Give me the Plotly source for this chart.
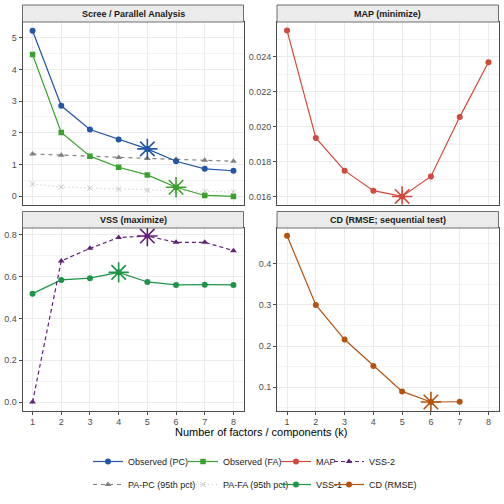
import plotly.graph_objects as go

k = [1, 2, 3, 4, 5, 6, 7, 8]

obs_pc = [5.22, 2.85, 2.10, 1.79, 1.49, 1.10, 0.86, 0.80]
obs_fa = [4.47, 2.01, 1.26, 0.91, 0.67, 0.28, 0.02, -0.01]
pa_pc = [1.33, 1.29, 1.25, 1.22, 1.19, 1.16, 1.13, 1.10]
pa_fa = [0.38, 0.29, 0.25, 0.22, 0.19, 0.16, 0.15, 0.13]

map_vals = [0.02548, 0.01936, 0.01750, 0.01636, 0.01603, 0.01717, 0.02055, 0.02368]

vss1 = [0.519, 0.585, 0.593, 0.621, 0.575, 0.561, 0.562, 0.561]
vss2 = [0.000, 0.676, 0.736, 0.788, 0.795, 0.765, 0.765, 0.725]

cd_k = [1, 2, 3, 4, 5, 6, 7]
cd_vals = [0.468, 0.300, 0.216, 0.152, 0.090, 0.0644, 0.065]

# suggested k (star markers)
best_pc, best_fa, best_map, best_vss1, best_vss2, best_cd = 5, 6, 5, 4, 5, 6

C_PC = "#2356A6"
C_FA = "#3AA02E"
C_PAPC = "#808080"
C_PAFA = "#C4C4C4"
C_MAP = "#D1493B"
C_VSS2 = "#63207A"
C_VSS1 = "#1D9446"
C_CD = "#B4530F"

FONT = "Liberation Sans, Arial, sans-serif"

fig = go.Figure()


def line(x, y, name, color, sym, xa, ya, dash="solid", leg="legend", rank=1, msize=6, lw=1.2):
    fig.add_trace(go.Scatter(
        x=x, y=y, name=name, mode="lines+markers",
        line=dict(color=color, width=lw, dash=dash),
        marker=dict(color=color, symbol=sym, size=msize),
        xaxis=xa, yaxis=ya, legend=leg, legendgroup=name, legendrank=rank,
    ))


def star(xs, ys, xv, color, xa, ya):
    fig.add_trace(go.Scatter(
        x=[xv], y=[ys[xs.index(xv)]], mode="markers",
        marker=dict(symbol="asterisk-open", size=17, color=color,
                    line=dict(color=color, width=1.6)),
        xaxis=xa, yaxis=ya, showlegend=False, hoverinfo="skip",
    ))


line(k, pa_fa, "PA-FA (95th pct)", C_PAFA, "x-thin-open", "x", "y", dash="1px,3px", leg="legend2", rank=2, msize=5)
line(k, pa_pc, "PA-PC (95th pct)", C_PAPC, "triangle-up", "x", "y", dash="4px,4px", leg="legend", rank=2)
line(k, obs_fa, "Observed (FA)", C_FA, "square", "x", "y", leg="legend2", rank=1, msize=5.5)
line(k, obs_pc, "Observed (PC)", C_PC, "circle", "x", "y", leg="legend", rank=1)
star(k, obs_pc, best_pc, C_PC, "x", "y")
star(k, obs_fa, best_fa, C_FA, "x", "y")

line(k, map_vals, "MAP", C_MAP, "circle", "x2", "y2", leg="legend3", rank=1)
star(k, map_vals, best_map, C_MAP, "x2", "y2")

line(k, vss1, "VSS-1", C_VSS1, "circle", "x3", "y3", leg="legend3", rank=2)
line(k, vss2, "VSS-2", C_VSS2, "triangle-up", "x3", "y3", dash="4px,3px", leg="legend4", rank=1)
star(k, vss1, best_vss1, C_VSS1, "x3", "y3")
star(k, vss2, best_vss2, C_VSS2, "x3", "y3")

line(cd_k, cd_vals, "CD (RMSE)", C_CD, "circle", "x4", "y4", leg="legend4", rank=2)
star(cd_k, cd_vals, best_cd, C_CD, "x4", "y4")

W = 504.0
XL = [22.5 / W, 243.5 / W]
XR = [277.0 / W, 498.5 / W]
YT = [(W - 204.5) / W, (W - 22) / W]
YB = [(W - 411) / W, (W - 228) / W]

GRID = "#EBEBEB"
BORDER = "#4D4D4D"
TICKF = dict(family=FONT, size=9, color="#4D4D4D")

def xax(domain, anchor, labels):
    return dict(domain=domain, anchor=anchor, range=[0.65, 8.35], tickvals=k,
                showticklabels=labels, ticks="outside" if labels else "",
                ticklen=3, tickcolor=BORDER, tickwidth=0.8, ticklabelstandoff=-1,
                showgrid=True, gridcolor=GRID, gridwidth=1, zeroline=False,
                showline=True, mirror=True, linecolor=BORDER, linewidth=0.8,
                tickfont=TICKF, fixedrange=True)

def yax(domain, anchor, rng, dtick, fmt):
    return dict(domain=domain, anchor=anchor, range=rng, dtick=dtick, tick0=0,
                tickformat=fmt, ticks="outside", ticklen=3, tickcolor=BORDER, tickwidth=0.8,
                showgrid=True, gridcolor=GRID, gridwidth=1, zeroline=False,
                minor=dict(dtick=dtick / 2, showgrid=True, gridcolor="#F3F3F3", gridwidth=0.5, ticks=""),
                showline=True, mirror=True, linecolor=BORDER, linewidth=0.8,
                tickfont=TICKF, fixedrange=True)

legbase = dict(orientation="v", xanchor="left", yanchor="top", y=(W - 447) / W,
               font=dict(family=FONT, size=9, color="#1A1A1A"),
               bgcolor="rgba(0,0,0,0)", traceorder="grouped", tracegroupgap=4,
               itemwidth=30)

fig.update_layout(
    width=504, height=504, margin=dict(l=0, r=0, t=0, b=0),
    paper_bgcolor="white", plot_bgcolor="white",
    font=dict(family=FONT),
    xaxis=xax(XL, "y", False),
    yaxis=yax(YT, "x", [-0.265, 5.495], 1, "d"),
    xaxis2=xax(XR, "y2", False),
    yaxis2=yax(YT, "x2", [0.01557, 0.02597], 0.002, ".3f"),
    xaxis3=xax(XL, "y3", True),
    yaxis3=yax(YB, "x3", [-0.043, 0.8335], 0.2, ".1f"),
    xaxis4=xax(XR, "y4", True),
    yaxis4=yax(YB, "x4", [0.0425, 0.4867], 0.1, ".1f"),
    legend=dict(legbase, x=88 / W),
    legend2=dict(legbase, x=183 / W),
    legend3=dict(legbase, x=276 / W),
    legend4=dict(legbase, x=329 / W),
    showlegend=True,
)

# facet strips
strips = [
    ("Scree / Parallel Analysis", XL, 5, 22),
    ("MAP (minimize)", XR, 5, 22),
    ("VSS (maximize)", XL, 211.5, 228),
    ("CD (RMSE; sequential test)", XR, 211.5, 228),
]
for text, xd, top, bot in strips:
    fig.add_shape(type="rect", xref="paper", yref="paper", x0=xd[0], x1=xd[1],
                  y0=(W - bot) / W, y1=(W - top) / W,
                  fillcolor="#EBEBEB", line=dict(color=BORDER, width=0.8), layer="above")
    fig.add_annotation(text="<b>%s</b>" % text, xref="paper", yref="paper",
                       x=(xd[0] + xd[1]) / 2, y=(W - (top + bot) / 2) / W,
                       showarrow=False, xanchor="center", yanchor="middle",
                       font=dict(family=FONT, size=9, color="#1A1A1A"))

fig.add_annotation(text="Number of factors / components (k)", xref="paper", yref="paper",
                   x=260.5 / W, y=(W - 432) / W, showarrow=False,
                   xanchor="center", yanchor="middle",
                   font=dict(family=FONT, size=11, color="#000000"))

fig.write_html("out.html")
